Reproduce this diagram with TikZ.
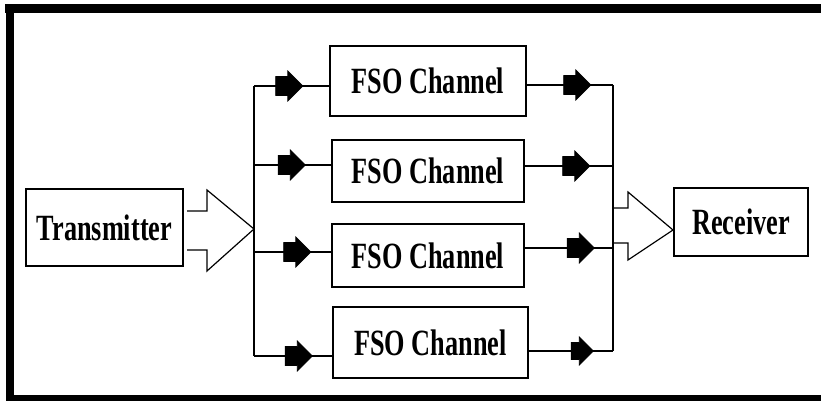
\documentclass[tikz,border=0pt]{standalone}
\usepackage{fontspec}
\newfontfamily\bloquefont[FakeStretch=0.71]{Liberation Serif}
\usetikzlibrary{shapes.arrows, positioning, calc}

\begin{document}
\begin{tikzpicture}[x=0.5pt, y=-0.5pt,
    bloque/.style={draw, line width=1pt, inner sep=0pt,
        font=\bloquefont\bfseries\fontsize{18.5}{20}\selectfont},
    flecha/.style={single arrow, fill=black, draw=black, inner xsep=0pt, inner ysep=4.5pt,
        minimum height=13.5pt, single arrow head extend=2.75pt},
    linea/.style={line width=1pt},
    hueca/.style={line width=0.6pt}]

    % Fondo blanco y marco negro grueso
    \fill[white] (0,0) rectangle (821,401);
    \useasboundingbox (0,0) rectangle (821,401);
    \fill (5,4) rectangle (821,13);
    \fill (6,4) rectangle (14,401);
    \fill (6,395) rectangle (821,401);

    % Bloques: transmisor, canales y receptor
    \node[bloque, minimum width=78.5pt, minimum height=38.5pt] (tx) at (104.5,227.5) {Transmitter};
    \node[bloque, minimum width=98pt, minimum height=35pt] (ch1) at (428,81) {FSO Channel};
    \node[bloque, minimum width=96pt, minimum height=31pt] (ch2) at (428,171) {FSO Channel};
    \node[bloque, minimum width=96pt, minimum height=31.5pt] (ch3) at (428,255.5) {FSO Channel};
    \node[bloque, minimum width=97.5pt, minimum height=35.5pt] (ch4) at (430.5,342.5) {FSO Channel};
    \node[bloque, minimum width=67pt, minimum height=34pt] (rx) at (741,222) {Receiver};

    % Bus de entrada
    \coordinate (b1) at (254,86);
    \coordinate (b2) at (254,165);
    \coordinate (b3) at (254,252);
    \coordinate (b4) at (254,356);
    \draw[linea] (b1) -- (b4);
    \draw[linea] (b1) -- (b1 -| ch1.west);
    \draw[linea] (b2) -- (b2 -| ch2.west);
    \draw[linea] (b3) -- (b3 -| ch3.west);
    \draw[linea] (b4) -- (b4 -| ch4.west);

    % Bus de salida
    \coordinate (c1) at (613,85);
    \coordinate (c2) at (613,166);
    \coordinate (c3) at (613,248);
    \coordinate (c4) at (613,351);
    \draw[linea] (c1) -- (c4);
    \draw[linea] (c1 -| ch1.east) -- (c1);
    \draw[linea] (c2 -| ch2.east) -- (c2);
    \draw[linea] (c3 -| ch3.east) -- (c3);
    \draw[linea] (c4 -| ch4.east) -- (c4);

    % Flechas huecas grandes
    \coordinate (bi) at (254,229);
    \draw[hueca] (187,211) -- (207,211) -- (207,190) -- (bi) -- (207,271) -- (207,250) -- (187,250);
    \coordinate (ri) at (673,230);
    \draw[hueca] (613,208) -- (628,208) -- (628,192) -- (ri) -- (628,260) -- (628,243) -- (613,243);

    % Flechas negras sobre cada rama
    \node[flecha] (f1) at (284.5,86) {};
    \node[flecha] (f2) at (287,165) {};
    \node[flecha] (f3) at (292.5,252) {};
    \node[flecha] (f4) at (294,356) {};
    \node[flecha] (g1) at (572.5,85) {};
    \node[flecha] (g2) at (571.5,166) {};
    \node[flecha] (g3) at (576,248) {};
    \node[flecha, minimum height=11pt, inner ysep=4pt] (g4) at (578,351) {};

\end{tikzpicture}
\end{document}
